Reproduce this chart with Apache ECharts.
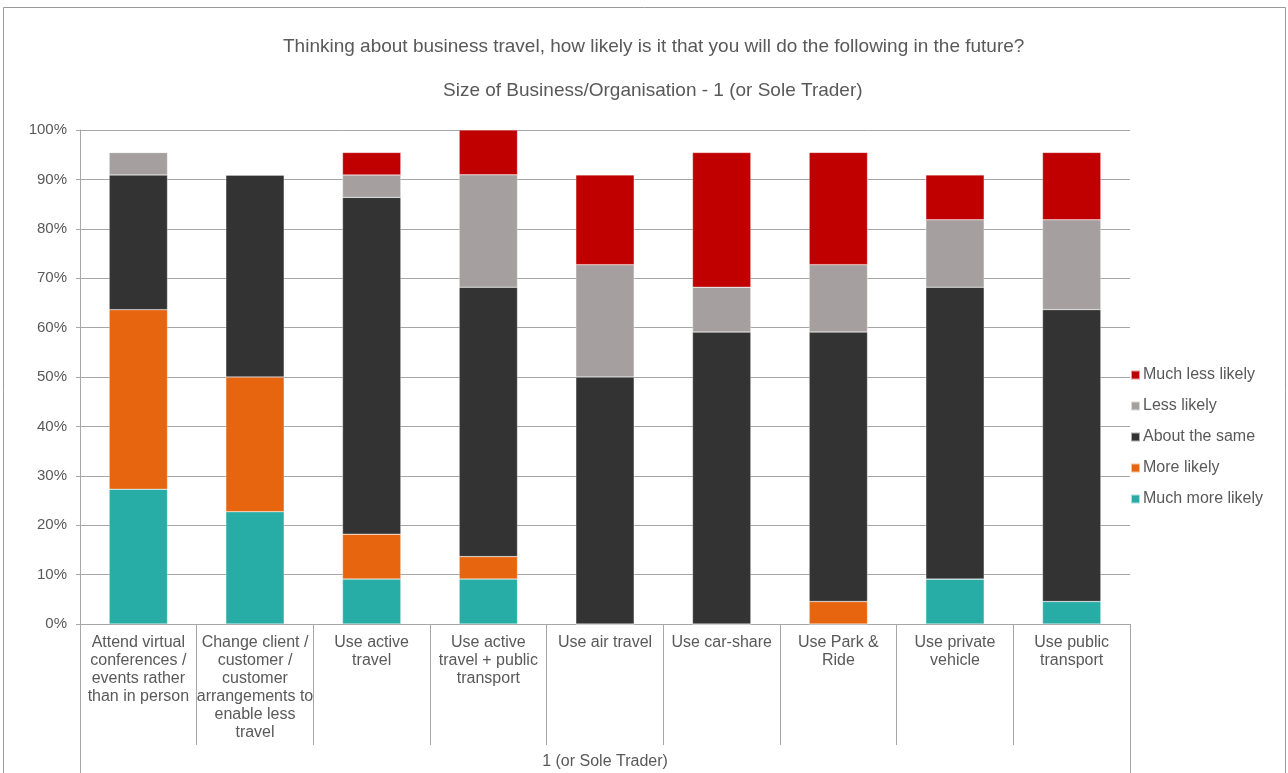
<!DOCTYPE html>
<html>
<head>
<meta charset="utf-8">
<title>Business travel intentions</title>
<script src="https://cdn.jsdelivr.net/npm/echarts@6/dist/echarts.min.js"></script>
<style>
  html, body { margin: 0; padding: 0; background: #fff; overflow: hidden; }
  #chart { width: 1288px; height: 773px; }
</style>
</head>
<body>
<div id="chart"></div>
<script>
// Activities asked about (tick labels, wrapped as shown under each bar)
const categories = [
  'Attend virtual\nconferences /\nevents rather\nthan in person',
  'Change client /\ncustomer /\ncustomer\narrangements to\nenable less\ntravel',
  'Use active\ntravel',
  'Use active\ntravel + public\ntransport',
  'Use air travel',
  'Use car-share',
  'Use Park &\nRide',
  'Use private\nvehicle',
  'Use public\ntransport'
];
const groupLabel = ['1 (or Sole Trader)'];

// Share of respondents (%) per answer
const muchMoreLikely = [27.27, 22.73, 9.09, 9.09, 0, 0, 0, 9.09, 4.55];
const moreLikely     = [36.36, 27.27, 9.09, 4.55, 0, 0, 4.55, 0, 0];
const aboutTheSame   = [27.27, 40.91, 68.18, 54.55, 50.00, 59.09, 54.55, 59.09, 59.09];
const lessLikely     = [4.55, 0, 4.55, 22.73, 22.73, 9.09, 13.64, 13.64, 18.18];
const muchLessLikely = [0, 0, 4.55, 9.09, 18.18, 27.27, 22.73, 9.09, 13.64];

const yTicks = [0, 100, 10]; // min, max, step

const font = 'Liberation Sans, Arial, sans-serif';
const textColor = '#595959';
const lineColor = '#a6a6a6';

const chart = echarts.init(document.getElementById('chart'), null, { renderer: 'canvas' });

function bar(name, data, color) {
  return {
    name: name,
    type: 'bar',
    stack: 'total',
    barWidth: '50%',
    data: data,
    itemStyle: { color: color, borderColor: 'rgba(255,255,255,0.6)', borderWidth: 0.5 },
    emphasis: { disabled: true }
  };
}

chart.setOption({
  animation: false,
  backgroundColor: '#fff',
  textStyle: { fontFamily: font },
  graphic: [{
    type: 'rect',
    shape: { x: 3.5, y: 7.5, width: 1282, height: 800 },
    style: { fill: 'none', stroke: '#9a9a9a', lineWidth: 1 },
    silent: true
  }],
  title: [
    {
      text: 'Thinking about business travel, how likely is it that you will do the following in the future?',
      left: 278, top: 32, padding: [5, 5],
      textStyle: { fontSize: 19, fontWeight: 'normal', color: textColor, fontFamily: font }
    },
    {
      text: 'Size of Business/Organisation - 1 (or Sole Trader)',
      left: 438, top: 76, padding: [5, 5],
      textStyle: { fontSize: 19, fontWeight: 'normal', color: textColor, fontFamily: font }
    }
  ],
  legend: {
    orient: 'vertical',
    left: 1125, top: 362,
    icon: 'rect',
    itemWidth: 9, itemHeight: 9,
    itemGap: 15,
    selectedMode: false,
    data: ['Much less likely', 'Less likely', 'About the same', 'More likely', 'Much more likely'],
    textStyle: { fontSize: 16, color: textColor, fontFamily: font, lineHeight: 16, padding: [0, 0, 0, -2] }
  },
  grid: { left: 80, right: 158, top: 130, bottom: 149, containLabel: false },
  xAxis: [
    {
      type: 'category',
      data: categories,
      position: 'bottom',
      axisLine: { show: true, lineStyle: { color: lineColor, width: 1 } },
      axisTick: { show: true, interval: 0, length: 121, lineStyle: { color: lineColor } },
      axisLabel: {
        interval: 0, margin: 10,
        fontSize: 16, lineHeight: 18, color: textColor, fontFamily: font, align: 'center'
      }
    },
    {
      type: 'category',
      data: groupLabel,
      position: 'bottom',
      axisLine: { show: false },
      axisTick: { show: true, interval: 0, length: 160, lineStyle: { color: lineColor } },
      axisLabel: { margin: 130, fontSize: 16, color: textColor, fontFamily: font }
    }
  ],
  yAxis: {
    type: 'value',
    min: yTicks[0], max: yTicks[1], interval: yTicks[2],
    axisLine: { show: true, lineStyle: { color: lineColor } },
    axisTick: { show: true, length: 4, lineStyle: { color: lineColor } },
    axisLabel: { formatter: '{value}%', fontSize: 15, color: textColor, fontFamily: font, margin: 13 },
    splitLine: { show: true, lineStyle: { color: lineColor, width: 1 } }
  },
  series: [
    bar('Much more likely', muchMoreLikely, '#27ada6'),
    bar('More likely', moreLikely, '#e8650f'),
    bar('About the same', aboutTheSame, '#333333'),
    bar('Less likely', lessLikely, '#a5a09f'),
    bar('Much less likely', muchLessLikely, '#c00000')
  ]
});
</script>
</body>
</html>
